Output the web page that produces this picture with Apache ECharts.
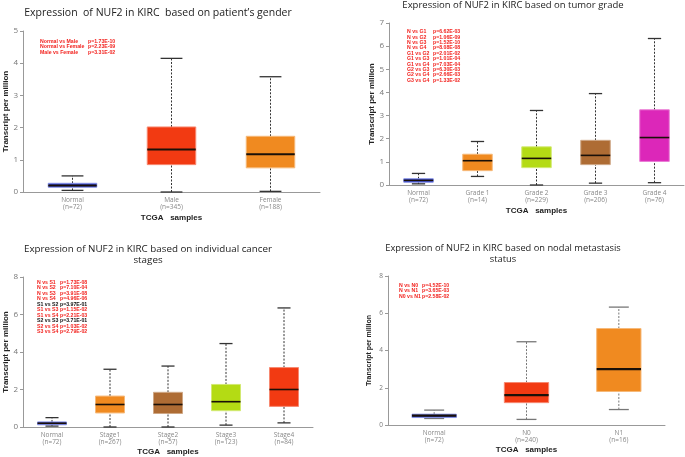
<!DOCTYPE html>
<html>
<head>
<meta charset="utf-8">
<script src="https://cdn.jsdelivr.net/npm/echarts@6/dist/echarts.min.js"></script>
<style>
html, body { margin: 0; padding: 0; background: #fff; }
#chart { width: 685px; height: 457px; }
</style>
</head>
<body>
<div id="chart"></div>
<script>
// box values are [min, Q1, median, Q3, max]

// patient's gender
var genderCats = ['Normal', 'Male', 'Female'];
var genderN = [72, 345, 188];
var genderBox = [
  [0.05, 0.15, 0.2, 0.27, 0.5],
  [0, 0.85, 1.32, 2.02, 4.15],
  [0.02, 0.75, 1.17, 1.73, 3.58]
];
var genderCmp = ['Normal vs Male', 'Normal vs Female', 'Male vs Female'];
var genderP = ['p=1.73E-10', 'p=2.23E-09', 'p=3.31E-02'];

// tumor grade
var gradeCats = ['Normal', 'Grade 1', 'Grade 2', 'Grade 3', 'Grade 4'];
var gradeN = [72, 14, 229, 206, 76];
var gradeBox = [
  [0.05, 0.12, 0.2, 0.27, 0.5],
  [0.37, 0.62, 1.05, 1.33, 1.88],
  [0, 0.75, 1.15, 1.65, 3.22],
  [0.08, 0.88, 1.28, 1.93, 3.95],
  [0.1, 1.02, 2.05, 3.25, 6.33]
];
var gradeCmp = ['N vs G1', 'N vs G2', 'N vs G3', 'N vs G4', 'G1 vs G2', 'G1 vs G3', 'G1 vs G4', 'G2 vs G3', 'G2 vs G4', 'G3 vs G4'];
var gradeP = ['p=6.62E-03', 'p=1.06E-09', 'p=1.52E-10', 'p=8.08E-08', 'p=2.01E-02', 'p=1.01E-04', 'p=7.03E-04', 'p=6.30E-03', 'p=2.66E-03', 'p=1.33E-02'];

// cancer stages
var stageCats = ['Normal', 'Stage1', 'Stage2', 'Stage3', 'Stage4'];
var stageN = [72, 267, 57, 123, 84];
var stageBox = [
  [0.05, 0.12, 0.2, 0.27, 0.5],
  [0, 0.75, 1.2, 1.65, 3.08],
  [0, 0.72, 1.2, 1.85, 3.25],
  [0.1, 0.87, 1.35, 2.27, 4.45],
  [0.22, 1.1, 2.0, 3.17, 6.35]
];
var stageCmp = ['N vs S1', 'N vs S2', 'N vs S3', 'N vs S4', 'S1 vs S2', 'S1 vs S3', 'S1 vs S4', 'S2 vs S3', 'S2 vs S4', 'S3 vs S4'];
var stageP = ['p=1.73E-08', 'p=7.10E-04', 'p=3.91E-08', 'p=4.96E-06', 'p=3.97E-01', 'p=1.15E-02', 'p=2.21E-03', 'p=3.71E-01', 'p=1.03E-02', 'p=2.79E-02'];

// nodal metastasis
var nodalCats = ['Normal', 'N0', 'N1'];
var nodalN = [72, 240, 16];
var nodalBox = [
  [0.35, 0.4, 0.5, 0.58, 0.8],
  [0.3, 1.2, 1.6, 2.28, 4.47],
  [0.83, 1.8, 3.0, 5.18, 6.33]
];
var nodalCmp = ['N vs N0', 'N vs N1', 'N0 vs N1'];
var nodalP = ['p=4.52E-10', 'p=3.65E-03', 'p=2.58E-02'];

var BLUE = '#3447d6', RED = '#f23a12', ORANGE = '#f08a20', GREEN = '#b4db14', BROWN = '#ae6c34', PINK = '#dc27b9';

function lighten(hex, k) {
  var c = echarts.color.parse(hex);
  return 'rgb(' + [0, 1, 2].map(function (j) { return Math.round(c[j] + (255 - c[j]) * k); }).join(',') + ')';
}

function boxRender(colors, o) {
  return function (params, api) {
    var i = api.value(0);
    var band = api.size([1, 0])[0];
    var bw = band * o.ratio;
    var cw = bw * 0.45;
    var x = api.coord([i, 0])[0];
    var yLo = api.coord([i, api.value(1)])[1];
    var yQ1 = api.coord([i, api.value(2)])[1];
    var yMd = api.coord([i, api.value(3)])[1];
    var yQ3 = api.coord([i, api.value(4)])[1];
    var yHi = api.coord([i, api.value(5)])[1];
    var dash = { stroke: o.whisker, lineWidth: 1, lineDash: [2, 1.5] };
    var cap = { stroke: o.whisker, lineWidth: 1.3 };
    return {
      type: 'group',
      children: [
        { type: 'line', shape: { x1: x, y1: yLo, x2: x, y2: yQ1 }, style: dash },
        { type: 'line', shape: { x1: x, y1: yQ3, x2: x, y2: yHi }, style: dash },
        { type: 'line', shape: { x1: x - cw / 2, y1: yHi, x2: x + cw / 2, y2: yHi }, style: cap },
        { type: 'line', shape: { x1: x - cw / 2, y1: yLo, x2: x + cw / 2, y2: yLo }, style: cap },
        { type: 'rect', shape: { x: x - bw / 2, y: yQ3, width: bw, height: yQ1 - yQ3 },
          style: { fill: colors[i], stroke: lighten(colors[i], 0.4), lineWidth: 1 } },
        { type: 'line', shape: { x1: x - bw / 2, y1: yMd, x2: x + bw / 2, y2: yMd },
          style: { stroke: '#1a1008', lineWidth: o.medW } }
      ]
    };
  };
}

function rows(box) {
  return box.map(function (b, i) { return [i].concat(b); });
}

var grids = [
  { left: 23, top: 31, width: 297, height: 161 },
  { left: 389, top: 23, width: 295, height: 162 },
  { left: 23, top: 277, width: 290, height: 150 },
  { left: 388, top: 276, width: 277, height: 149 }
];

var panels = [
  { cats: genderCats, n: genderN, box: genderBox, colors: [BLUE, RED, ORANGE], max: 5, step: 1, yGap: 11, xGap: 22, ratio: 0.49, medW: 2, whisker: '#333', yFont: 8, nameFont: 8 },
  { cats: gradeCats, n: gradeN, box: gradeBox, colors: [BLUE, ORANGE, GREEN, BROWN, PINK], max: 7, step: 1, yGap: 13, xGap: 22, ratio: 0.5, medW: 1.6, whisker: '#333', yFont: 8, nameFont: 8 },
  { cats: stageCats, n: stageN, box: stageBox, colors: [BLUE, ORANGE, BROWN, GREEN, RED], max: 8, step: 2, yGap: 11, xGap: 21, ratio: 0.5, medW: 1.6, whisker: '#333', yFont: 8, nameFont: 8 },
  { cats: nodalCats, n: nodalN, box: nodalBox, colors: [BLUE, RED, ORANGE], max: 8, step: 2, yGap: 15, xGap: 21, ratio: 0.48, medW: 2.2, whisker: '#777', yFont: 6.5, nameFont: 7 }
];

var xAxes = [], yAxes = [], series = [];
panels.forEach(function (p, k) {
  xAxes.push({
    type: 'category', gridIndex: k, data: p.cats,
    name: 'TCGA   samples', nameLocation: 'middle', nameGap: p.xGap,
    nameTextStyle: { fontFamily: 'Liberation Sans', fontWeight: 'bold', fontSize: 8, color: '#222' },
    axisLine: { lineStyle: { color: '#999', width: 1 } },
    axisTick: { show: false },
    axisLabel: {
      margin: 4, fontSize: 6.5, lineHeight: 7.5, color: '#888', fontFamily: 'Open Sans',
      formatter: function (v, idx) { return v + '\n(n=' + p.n[idx] + ')'; }
    }
  });
  yAxes.push({
    type: 'value', gridIndex: k, min: 0, max: p.max, interval: p.step,
    name: 'Transcript per million', nameLocation: 'middle', nameGap: p.yGap, nameRotate: 90,
    nameTextStyle: { fontFamily: 'Liberation Sans', fontWeight: 'bold', fontSize: p.nameFont, color: '#222' },
    axisLine: { show: true, lineStyle: { color: '#999', width: 1 } },
    axisTick: { show: true, length: 3, lineStyle: { color: '#999' } },
    splitLine: { show: false },
    axisLabel: { margin: 5, fontSize: p.yFont, color: '#777', fontFamily: 'Open Sans' }
  });
  series.push({
    type: 'custom', xAxisIndex: k, yAxisIndex: k,
    renderItem: boxRender(p.colors, p),
    encode: { x: 0, y: [1, 2, 3, 4, 5] },
    data: rows(p.box),
    silent: true
  });
});

function pvalText(cmp, pv, x0, x1, y0, dy, blackRows) {
  var out = [];
  cmp.forEach(function (c, i) {
    var col = blackRows && blackRows.indexOf(i) >= 0 ? '#111' : '#f2231f';
    var st = { fontSize: 5.2, fontWeight: 'bold', fontFamily: 'Liberation Sans', fill: col, textVerticalAlign: 'middle' };
    out.push({ type: 'text', left: x0, top: y0 + i * dy - 3, style: Object.assign({ text: c }, st) });
    out.push({ type: 'text', left: x1, top: y0 + i * dy - 3, style: Object.assign({ text: pv[i] }, st) });
  });
  return out;
}

function titleText(text, cx, cy, size) {
  return { type: 'text', x: cx, y: cy, style: { text: text, fontSize: size, fontFamily: 'Open Sans', fill: '#222', align: 'center', verticalAlign: 'middle', lineHeight: 11 } };
}

var graphics = []
  .concat(pvalText(genderCmp, genderP, 40, 88, 42, 5.3))
  .concat(pvalText(gradeCmp, gradeP, 407, 433, 32.3, 5.4))
  .concat(pvalText(stageCmp, stageP, 37, 60, 283, 5.45, [4, 7]))
  .concat(pvalText(nodalCmp, nodalP, 399, 422, 285.7, 5.5));
graphics.push(titleText('Expression  of NUF2 in KIRC  based on patient\u2019s gender', 158, 13, 10.5));
graphics.push(titleText('Expression of NUF2 in KIRC based on tumor grade', 513, 5, 9.5));
graphics.push(titleText('Expression of NUF2 in KIRC based on individual cancer\nstages', 148, 254.5, 9.8));
graphics.push(titleText('Expression of NUF2 in KIRC based on nodal metastasis\nstatus', 503, 253.5, 9.3));

var chart = echarts.init(document.getElementById('chart'));
chart.setOption({
  animation: false,
  backgroundColor: '#fff',
  grid: grids,
  xAxis: xAxes,
  yAxis: yAxes,
  series: series,
  graphic: graphics
});
</script>
</body>
</html>
